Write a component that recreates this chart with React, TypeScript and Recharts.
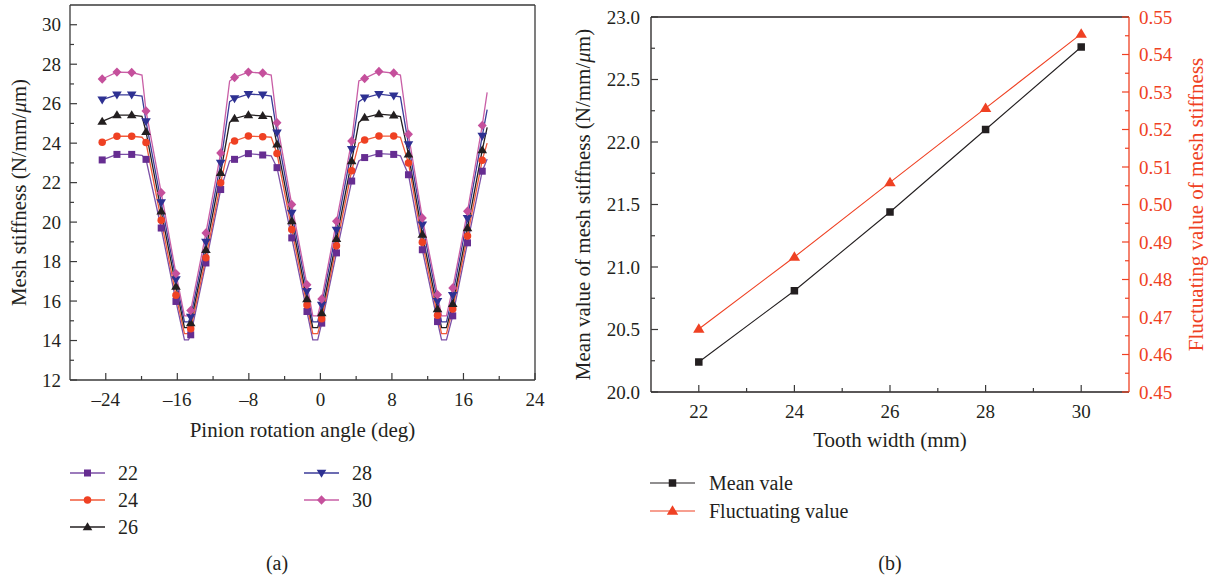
import React from 'react';
import { LineChart, Line, XAxis, YAxis, ReferenceLine, Legend } from 'recharts';

const FONT = '"Liberation Serif", "Times New Roman", serif';
const INK = '#231f20';
const AXIS = '#3a3a3a';
const RED = '#ef4123';

// ---------- (a) mesh stiffness vs pinion rotation angle ----------
const angle = [-24.4, -22.75, -21.1, -19.95, -19.5, -17.8, -16.15, -15.2, -14.75, -14.5, -12.8, -11.15, -10.15, -9.6, -8.05, -6.45, -5.5, -4.85, -3.2, -1.5, -0.85, -0.3, 0.15, 1.8, 3.5, 4.3, 4.95, 6.55, 8.2, 8.95, 9.85, 11.4, 13.1, 13.55, 14.1, 14.8, 16.45, 18.1, 18.65];
const marked = [1, 1, 1, 0, 1, 1, 1, 0, 0, 1, 1, 1, 0, 1, 1, 1, 0, 1, 1, 1, 0, 0, 1, 1, 1, 0, 1, 1, 1, 0, 1, 1, 1, 0, 0, 1, 1, 1, 0];
const width22 = [23.15, 23.43, 23.43, 23.38, 23.18, 19.7, 15.98, 14.03, 14.03, 14.29, 17.93, 21.65, 23.1, 23.18, 23.47, 23.4, 23.36, 22.76, 19.2, 15.47, 14.03, 14.03, 14.88, 18.44, 22.08, 23.1, 23.27, 23.47, 23.43, 23.36, 22.4, 18.6, 14.96, 14.03, 14.03, 15.25, 18.95, 22.58, 23.2];
const width24 = [24.05, 24.35, 24.35, 24.3, 24.03, 20.1, 16.3, 14.35, 14.35, 14.6, 18.2, 22.0, 24.0, 24.11, 24.36, 24.33, 24.3, 23.47, 19.62, 15.8, 14.35, 14.35, 15.1, 18.8, 22.6, 24.0, 24.16, 24.36, 24.36, 24.3, 23.0, 18.98, 15.28, 14.35, 14.35, 15.6, 19.3, 23.14, 24.0];
const width26 = [25.1, 25.42, 25.42, 25.36, 24.58, 20.55, 16.74, 14.65, 14.65, 14.88, 18.6, 22.5, 25.05, 25.25, 25.43, 25.38, 25.35, 23.94, 20.05, 16.1, 14.65, 14.65, 15.39, 19.15, 23.09, 25.05, 25.3, 25.47, 25.41, 25.35, 23.43, 19.37, 15.6, 14.65, 14.65, 15.86, 19.7, 23.65, 24.8];
const width28 = [26.2, 26.45, 26.45, 26.38, 25.1, 21.0, 17.1, 14.95, 14.95, 15.2, 19.0, 23.0, 26.1, 26.26, 26.48, 26.45, 26.38, 24.53, 20.47, 16.5, 14.95, 14.95, 15.8, 19.6, 23.69, 26.1, 26.3, 26.48, 26.4, 26.35, 23.94, 19.87, 15.99, 14.95, 14.95, 16.3, 20.2, 24.36, 25.7];
const width30 = [27.25, 27.6, 27.58, 27.45, 25.63, 21.49, 17.39, 15.25, 15.25, 15.52, 19.45, 23.5, 27.15, 27.33, 27.6, 27.55, 27.45, 25.04, 20.89, 16.83, 15.25, 15.25, 16.1, 20.04, 24.11, 27.15, 27.28, 27.63, 27.55, 27.45, 24.45, 20.21, 16.32, 15.25, 15.25, 16.66, 20.55, 24.9, 26.57];
const xTicksA = [-24, -20, -16, -12, -8, -4, 0, 4, 8, 12, 16, 20, 24];
const yTicksA = [12, 13, 14, 15, 16, 17, 18, 19, 20, 21, 22, 23, 24, 25, 26, 27, 28, 29, 30];

// ---------- (b) mean and fluctuating value vs tooth width ----------
const toothWidth = [22, 24, 26, 28, 30];
const meanValue = [20.24, 20.81, 21.44, 22.1, 22.76];
const fluctValue = [0.4668, 0.486, 0.5059, 0.5257, 0.5455];
const xTicksB = [22, 23, 24, 25, 26, 27, 28, 29, 30];
const yTicksBL = [20, 20.25, 20.5, 20.75, 21, 21.25, 21.5, 21.75, 22, 22.25, 22.5, 22.75, 23];
const yTicksBR = [0.45, 0.455, 0.46, 0.465, 0.47, 0.475, 0.48, 0.485, 0.49, 0.495, 0.5, 0.505, 0.51, 0.515, 0.52, 0.525, 0.53, 0.535, 0.54, 0.545, 0.55];

const rowsA = angle.map((x, i) => ({
  x,
  m: marked[i],
  s22: width22[i],
  s24: width24[i],
  s26: width26[i],
  s28: width28[i],
  s30: width30[i],
}));
const rowsB = toothWidth.map((w, i) => ({ w, mean: meanValue[i], fluct: fluctValue[i] }));

type Shape = 'square' | 'circle' | 'up' | 'down' | 'diamond';
const seriesA: { key: string; name: string; shape: Shape; marker: string; line: string; size: number }[] = [
  { key: 's22', name: '22', shape: 'square', marker: '#662d91', line: '#7b4fa6', size: 7 },
  { key: 's24', name: '24', shape: 'circle', marker: '#ef4123', line: '#f15a3a', size: 7.5 },
  { key: 's26', name: '26', shape: 'up', marker: '#231f20', line: '#231f20', size: 8 },
  { key: 's28', name: '28', shape: 'down', marker: '#2e3192', line: '#3b3b98', size: 8 },
  { key: 's30', name: '30', shape: 'diamond', marker: '#c5509c', line: '#c95fa6', size: 9 },
];

function marker(shape: Shape, cx: number, cy: number, fill: string, size: number, key?: any) {
  if (shape === 'square') {
    return <rect key={key} x={cx - size / 2} y={cy - size / 2} width={size} height={size} fill={fill} />;
  }
  if (shape === 'circle') return <circle key={key} cx={cx} cy={cy} r={size / 2} fill={fill} />;
  if (shape === 'up' || shape === 'down') {
    const w = size * 1.2;
    const h = size;
    const s = shape === 'up' ? 1 : -1;
    const pts = `${cx},${cy - s * h * 0.6} ${cx - w / 2},${cy + s * h * 0.4} ${cx + w / 2},${cy + s * h * 0.4}`;
    return <polygon key={key} points={pts} fill={fill} />;
  }
  const w = size;
  const h = size * 1.05;
  const pts = `${cx},${cy - h / 2} ${cx + w / 2},${cy} ${cx},${cy + h / 2} ${cx - w / 2},${cy}`;
  return <polygon key={key} points={pts} fill={fill} />;
}

const dotA = (shape: Shape, fill: string, size: number) => (p: any) => {
  if (!p.payload || !p.payload.m || p.cx == null || p.cy == null) return <g key={`n${p.index}`} />;
  return marker(shape, p.cx, p.cy, fill, size, `d${p.index}`);
};

const tickFont = { fontFamily: FONT, fontSize: 19, fill: INK };
const titleFont = { fontFamily: FONT, fontSize: 21, fill: INK };

const fmtSigned = (v: number) => (v < 0 ? `\u2013${Math.abs(v)}` : String(v));

const bottomTick = (isMajor: (v: number) => boolean, fmt: (v: number) => string) => (p: any) => {
  const v = p.payload.value;
  const major = isMajor(v);
  return (
    <g>
      <line x1={p.x} x2={p.x} y1={p.y} y2={p.y - (major ? 7 : 4)} stroke={AXIS} strokeWidth={1.2} />
      {major && (
        <text x={p.x} y={p.y + 26} textAnchor="middle" {...tickFont}>
          {fmt(v)}
        </text>
      )}
    </g>
  );
};

const leftTick = (isMajor: (v: number) => boolean, fmt: (v: number) => string, gap: number) => (p: any) => {
  const v = p.payload.value;
  const major = isMajor(v);
  return (
    <g>
      <line x1={p.x} x2={p.x + (major ? 7 : 4)} y1={p.y} y2={p.y} stroke={AXIS} strokeWidth={1.2} />
      {major && (
        <text x={p.x - gap} y={p.y + 6.5} textAnchor="end" {...tickFont}>
          {fmt(v)}
        </text>
      )}
    </g>
  );
};

const rightTick = (isMajor: (v: number) => boolean, fmt: (v: number) => string, color: string) => (p: any) => {
  const v = p.payload.value;
  const major = isMajor(v);
  return (
    <g>
      <line x1={p.x} x2={p.x - (major ? 7 : 4)} y1={p.y} y2={p.y} stroke={color} strokeWidth={1.2} />
      {major && (
        <text x={p.x + 10} y={p.y + 6.5} textAnchor="start" {...tickFont} fill={color}>
          {fmt(v)}
        </text>
      )}
    </g>
  );
};

const xTitle = (text: string, dy: number) => (p: any) => {
  const vb = p.viewBox || {};
  return (
    <text x={vb.x + vb.width / 2} y={vb.y + dy} textAnchor="middle" {...titleFont}>
      {text}
    </text>
  );
};

const yTitle = (parts: React.ReactNode, dx: number, color: string) => (p: any) => {
  const vb = p.viewBox || {};
  const cx = vb.x + dx;
  const cy = vb.y + vb.height / 2;
  return (
    <text
      x={cx}
      y={cy}
      transform={`rotate(-90 ${cx} ${cy})`}
      textAnchor="middle"
      dominantBaseline="central"
      {...titleFont}
      fill={color}
    >
      {parts}
    </text>
  );
};

const unitText = (
  <>
    (N/mm/<tspan fontStyle="italic">μ</tspan>m)
  </>
);

const legendA = (props: any) => {
  const payload = props.payload || [];
  return (
    <svg width={570} height={580} style={{ display: 'block' }}>
      {payload.map((e: any) => {
        const idx = seriesA.findIndex((s) => s.key === e.dataKey);
        if (idx < 0) return null;
        const cfg = seriesA[idx];
        const col = idx < 3 ? 0 : 1;
        const row = idx < 3 ? idx : idx - 3;
        const x0 = col ? 304 : 70;
        const y = 473 + row * 27;
        return (
          <g key={cfg.key}>
            <line x1={x0} x2={x0 + 35} y1={y} y2={y} stroke={cfg.line} strokeWidth={1.3} />
            {marker(cfg.shape, x0 + 17.5, y, cfg.marker, cfg.size)}
            <text x={x0 + 48} y={y + 7} fontFamily={FONT} fontSize={20} fill={INK}>
              {e.value}
            </text>
          </g>
        );
      })}
    </svg>
  );
};

const legendB = (props: any) => {
  const payload = props.payload || [];
  return (
    <svg width={641} height={580} style={{ display: 'block' }}>
      {payload.map((e: any) => {
        const isMean = e.dataKey === 'mean';
        const y = isMean ? 483 : 511;
        const col = isMean ? INK : RED;
        const x0 = 80;
        return (
          <g key={String(e.dataKey)}>
            <line x1={x0} x2={x0 + 45} y1={y} y2={y} stroke={col} strokeWidth={1.2} />
            {isMean ? marker('square', x0 + 22.5, y, col, 7.5) : marker('up', x0 + 22.5, y, col, 9.5)}
            <text x={x0 + 59} y={y + 7} fontFamily={FONT} fontSize={20} fill={INK}>
              {e.value}
            </text>
          </g>
        );
      })}
    </svg>
  );
};

const dotB = (shape: Shape, fill: string, size: number) => (p: any) => {
  if (p.cx == null || p.cy == null) return <g key={`n${p.index}`} />;
  return marker(shape, p.cx, p.cy, fill, size, `d${p.index}`);
};

export default function App() {
  return (
    <div style={{ position: 'absolute', left: 0, top: 0, width: 1211, height: 580, background: '#fff' }}>
      <div style={{ position: 'absolute', left: 0, top: 0 }}>
        <LineChart width={570} height={580} data={rowsA} margin={{ top: 5, right: 35, bottom: 140, left: 0 }}>
          <XAxis
            dataKey="x"
            type="number"
            domain={[-28, 24]}
            ticks={xTicksA}
            interval={0}
            height={60}
            tickSize={0}
            tickMargin={0}
            tickLine={false}
            axisLine={{ stroke: AXIS, strokeWidth: 1.3 }}
            tick={bottomTick((v) => v % 8 === 0, fmtSigned)}
            label={xTitle('Pinion rotation angle (deg)', 57)}
          />
          <YAxis
            type="number"
            domain={[12, 31]}
            ticks={yTicksA}
            interval={0}
            width={70}
            tickSize={0}
            tickMargin={0}
            tickLine={false}
            axisLine={{ stroke: AXIS, strokeWidth: 1.3 }}
            tick={leftTick((v) => v % 2 === 0, (v) => String(v), 9)}
            label={yTitle(<>Mesh stiffness {unitText}</>, 18.5, INK)}
          />
          <ReferenceLine y={31} stroke={AXIS} strokeWidth={1.3} />
          <ReferenceLine x={24} stroke={AXIS} strokeWidth={1.3} />
          {seriesA.map((s) => (
            <Line
              key={s.key}
              dataKey={s.key}
              name={s.name}
              type="linear"
              stroke={s.line}
              strokeWidth={1.3}
              dot={dotA(s.shape, s.marker, s.size)}
              activeDot={false}
              isAnimationActive={false}
            />
          ))}
          <Legend
            layout="vertical"
            align="center"
            verticalAlign="middle"
            wrapperStyle={{ left: 0, top: 0, width: 570, height: 580, pointerEvents: 'none' }}
            content={legendA}
          />
        </LineChart>
      </div>
      <div style={{ position: 'absolute', left: 570, top: 0 }}>
        <LineChart width={641} height={580} data={rowsB} margin={{ top: 17, right: 0, bottom: 128, left: 0 }}>
          <XAxis
            dataKey="w"
            type="number"
            domain={[21, 31]}
            ticks={xTicksB}
            interval={0}
            height={60}
            tickSize={0}
            tickMargin={0}
            tickLine={false}
            axisLine={{ stroke: INK, strokeWidth: 1.3 }}
            tick={bottomTick((v) => v % 2 === 0, (v) => String(v))}
            label={xTitle('Tooth width (mm)', 55)}
          />
          <YAxis
            yAxisId="l"
            type="number"
            domain={[20, 23]}
            ticks={yTicksBL}
            interval={0}
            width={81}
            tickSize={0}
            tickMargin={0}
            tickLine={false}
            axisLine={{ stroke: INK, strokeWidth: 1.3 }}
            tick={leftTick((v) => Math.round(v * 100) % 50 === 0, (v) => v.toFixed(1), 11)}
            label={yTitle(<>Mean value of mesh stiffness {unitText}</>, 13, INK)}
          />
          <YAxis
            yAxisId="r"
            orientation="right"
            type="number"
            domain={[0.45, 0.55]}
            ticks={yTicksBR}
            interval={0}
            width={82}
            tickSize={0}
            tickMargin={0}
            tickLine={false}
            axisLine={{ stroke: RED, strokeWidth: 1.3 }}
            tick={rightTick((v) => Math.round(v * 1000) % 10 === 0, (v) => v.toFixed(2), RED)}
            label={yTitle('Fluctuating value of mesh stiffness', 67, RED)}
          />
          <ReferenceLine yAxisId="l" y={23} stroke={INK} strokeWidth={1.3} />
          <Line
            yAxisId="l"
            dataKey="mean"
            name="Mean vale"
            type="linear"
            stroke={INK}
            strokeWidth={1.1}
            dot={dotB('square', INK, 7.5)}
            activeDot={false}
            isAnimationActive={false}
          />
          <Line
            yAxisId="r"
            dataKey="fluct"
            name="Fluctuating value"
            type="linear"
            stroke={RED}
            strokeWidth={1.1}
            dot={dotB('up', RED, 9.5)}
            activeDot={false}
            isAnimationActive={false}
          />
          <Legend
            layout="vertical"
            align="center"
            verticalAlign="middle"
            wrapperStyle={{ left: 0, top: 0, width: 641, height: 580, pointerEvents: 'none' }}
            content={legendB}
          />
        </LineChart>
      </div>
      <div
        style={{
          position: 'absolute',
          left: 0,
          top: 549,
          width: 554,
          textAlign: 'center',
          fontFamily: FONT,
          fontSize: 20,
          color: INK,
          lineHeight: '28px',
        }}
      >
        (a)
      </div>
      <div
        style={{
          position: 'absolute',
          left: 570,
          top: 549,
          width: 640,
          textAlign: 'center',
          fontFamily: FONT,
          fontSize: 20,
          color: INK,
          lineHeight: '28px',
        }}
      >
        (b)
      </div>
    </div>
  );
}
